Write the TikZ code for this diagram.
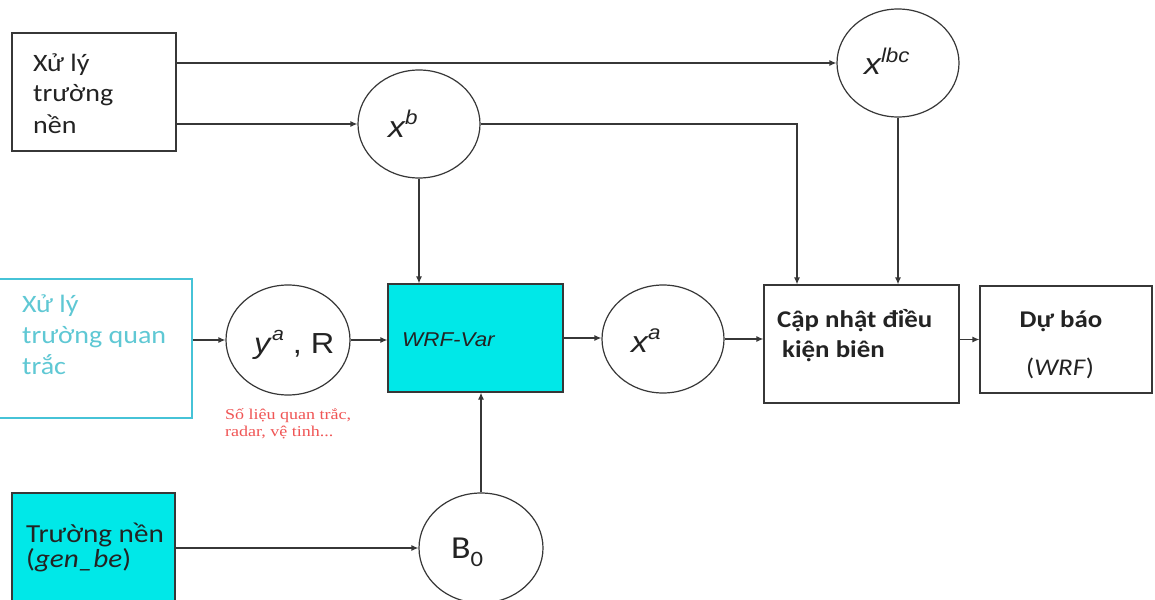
\documentclass[tikz,border=0pt]{standalone}
\usepackage{fontspec}
\setmainfont{Carlito}[FakeStretch=1.12]
\newfontfamily\arialf{Liberation Sans}[FakeStretch=1.12]
\newfontfamily\timesf{Liberation Serif}[FakeStretch=1.2]
\usetikzlibrary{arrows.meta,shapes.geometric}
\definecolor{linec}{RGB}{55,55,55}
\definecolor{textc}{RGB}{35,35,35}
\definecolor{cyanf}{RGB}{0,232,232}
\definecolor{obsc}{RGB}{70,195,215}
\definecolor{obst}{RGB}{95,200,212}
\definecolor{redc}{RGB}{240,85,85}
\newcommand\fsz[1]{\fontsize{#1}{#1}\selectfont}
\newcommand\supx[2]{\raisebox{0.42em}{\fsz{#1}#2}}
\begin{document}
\begin{tikzpicture}[x=1pt,y=-1pt,
  arr/.style={draw=linec, line width=1.2pt, -{Latex[length=7pt,width=6pt]}},
  bx/.style={draw=linec, line width=1.2pt, rectangle, inner sep=0pt},
  circ/.style={draw=linec, line width=1.2pt, ellipse, inner sep=0pt, minimum width=122pt, minimum height=108pt},
  txt/.style={inner sep=0pt, anchor=base west, text=textc},
  ctxt/.style={inner sep=0pt, anchor=base, text=textc},
]
\clip (0,0) rectangle (1155,599);
\fill[white] (0,0) rectangle (1155,599);

% boxes
\node[bx, minimum width=164pt, minimum height=118pt] (bg) at (94,92) {};
\node[bx, draw=obsc, minimum width=202pt, minimum height=139pt] (obs) at (91,348.5) {};
\node[bx, fill=cyanf, minimum width=175pt, minimum height=108pt] (wrf) at (475.5,338) {};
\node[bx, minimum width=195pt, minimum height=118pt] (upd) at (861.5,344) {};
\node[bx, minimum width=172pt, minimum height=107pt] (fc) at (1066,339.5) {};
\node[bx, fill=cyanf, minimum width=163pt, minimum height=117pt] (gb) at (93.5,551.5) {};

% ellipses
\node[circ] (xlbc) at (898,63) {};
\node[circ] (xb) at (419,124) {};
\node[circ, minimum width=124pt, minimum height=110pt] (ya) at (288,340) {};
\node[circ] (xa) at (663,339) {};
\node[circ, minimum width=124pt, minimum height=110pt] (bo) at (481,548) {};

\coordinate (updA) at ([xshift=-64.5pt]upd.north);

% connectors
\draw[arr] (bg.east |- xlbc.west) -- (xlbc.west);
\draw[arr] (bg.east |- xb.west) -- (xb.west);
\draw[arr] (xb.east) -| (updA);
\draw[arr] (xlbc.south) -- (xlbc.south |- upd.north);
\draw[arr] (xb.south) -- (xb.south |- wrf.north);
\draw[arr] (obs.east |- ya.west) -- (ya.west);
\draw[arr] (ya.east) -- (ya.east -| wrf.west);
\draw[arr] (wrf.east) -- (wrf.east -| xa.west);
\draw[arr] (xa.east) -- (xa.east -| upd.west);
\draw[arr] (upd.east |- fc.west) -- (fc.west);
\draw[arr] (gb.east |- bo.west) -- (bo.west);
\draw[arr] (bo.north) -- (bo.north |- wrf.south);

% texts
\node[txt, font=\fsz{25}] (bg1) at (33,72) {Xử lý};
\node[txt, font=\fsz{25}] (bg2) at (33,102) {trường};
\node[txt, font=\fsz{25}] (bg3) at (33,133) {nền};

\node[txt, font=\fsz{25}, text=obst] (ob1) at (22,312) {Xử lý};
\node[txt, font=\fsz{25}, text=obst] (ob2) at (22,343) {trường quan};
\node[txt, font=\fsz{25}, text=obst] (ob3) at (22,374) {trắc};

\node[txt, font=\timesf\fsz{15}, text=redc] (rd1) at (225,419) {Số liệu quan trắc,};
\node[txt, font=\timesf\fsz{15}, text=redc] (rd2) at (225,436) {radar, vệ tinh...};

\node[txt, font=\fsz{26}] (gb1) at (26,542) {Trường nền};
\node[txt, font=\fsz{26}] (gb2) at (26,567) {(\textit{gen\_be})};

\node[txt, font=\bfseries\fsz{24}] (up1) at (777,327) {Cập nhật điều};
\node[txt, font=\bfseries\fsz{24}] (up2) at (782,357) {kiện biên};

\node[ctxt, font=\bfseries\fsz{24}] (fc1) at (1061,327) {Dự báo};
\node[ctxt, font=\fsz{24}] (fc2) at (1060,375) {(\textit{WRF})};

\node[txt, font=\arialf\itshape\fsz{20}] (wrft) at (402,346) {WRF-Var};

\node[txt, font=\arialf\itshape\fsz{30}] (xbt) at (388,137) {x\supx{20}{b}};
\node[txt, font=\arialf\itshape\fsz{30}] (xat) at (631,352) {x\supx{20}{a}};
\node[txt, font=\arialf\itshape\fsz{30}] (xlt) at (864,75) {x\supx{20}{lbc}};
\node[txt, font=\arialf\fsz{29}] (yat) at (254,353) {\textit{y}\supx{19}{\textit{a}} , R};
\node[txt, font=\fsz{32}] (bot) at (451,558) {B\raisebox{-0.25em}{\fsz{22}0}};
\end{tikzpicture}
\end{document}
